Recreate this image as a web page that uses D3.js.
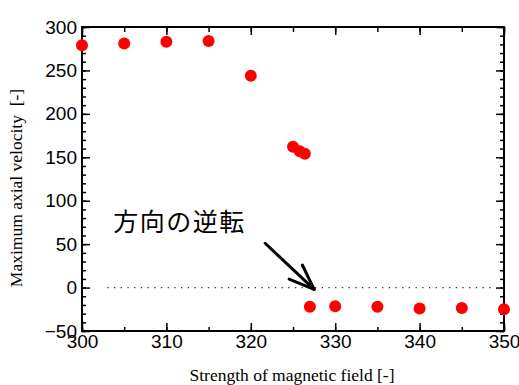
<!DOCTYPE html>
<html>
<head>
<meta charset="utf-8">
<script src="https://cdn.jsdelivr.net/npm/d3@7"></script>
<style>
  body { margin: 0; background: #fff; }
  svg { display: block; }
  .tick text { font-family: "Liberation Sans", Arial, sans-serif; font-size: 19px; fill: #000; }
  .title { font-family: "Liberation Serif", "Times New Roman", serif; font-size: 17.5px; fill: #000; white-space: pre; }
  .note { font-family: "Noto Sans CJK JP", sans-serif; font-size: 25px; fill: #000; letter-spacing: 1.5px; }
</style>
</head>
<body>
<figure id="plot" style="margin:0"></figure>
<script>
// magnetic field strength vs. maximum axial velocity
var field    = [300, 305, 310, 315, 320, 325, 325.8, 326.4, 327, 330, 335, 340, 345, 350];
var velocity = [279, 281, 283, 284, 244, 162, 157, 154, -22, -21.5, -22, -24, -23.5, -25];
var xTicks = [300, 310, 320, 330, 340, 350];
var yTicks = [-50, 0, 50, 100, 150, 200, 250, 300];

// annotation, in data units
var noteText = "方向の逆転";
var notePos = [303.7, 65];
var arrowFrom = [321.7, 51];
var arrowTo = [327.5, -2];

var width = 519, height = 385;
var margin = {top: 27, right: 15, bottom: 54, left: 82};
var w = width - margin.left - margin.right;
var h = height - margin.top - margin.bottom;

var svg = d3.select("figure#plot")
  .append("svg")
  .attr("width", width)
  .attr("height", height);

var g = svg.append("g")
  .attr("transform", "translate(" + margin.left + "," + margin.top + ")");

var x = d3.scaleLinear().domain([300, 350]).range([0, w]);
var y = d3.scaleLinear().domain([-50, 300]).range([h, 0]);

// minor ticks on all four sides
g.append("g").attr("transform", "translate(0," + h + ")")
  .call(d3.axisBottom(x).tickValues(d3.range(300, 351, 5)).tickSize(-4).tickFormat(""));
g.append("g")
  .call(d3.axisTop(x).tickValues(d3.range(300, 351, 5)).tickSize(-5).tickFormat(""));
g.append("g")
  .call(d3.axisLeft(y).tickValues(d3.range(-50, 301, 10)).tickSize(-4).tickFormat(""));
g.append("g").attr("transform", "translate(" + w + ",0)")
  .call(d3.axisRight(y).tickValues(d3.range(-50, 301, 10)).tickSize(-4).tickFormat(""));

// major ticks
g.append("g").attr("transform", "translate(0," + h + ")")
  .call(d3.axisBottom(x).tickValues(xTicks).tickSize(-8).tickPadding(3).tickFormat(d3.format("d")));
g.append("g")
  .call(d3.axisTop(x).tickValues(xTicks).tickSize(-8).tickFormat(""));
g.append("g")
  .call(d3.axisLeft(y).tickValues(yTicks).tickSize(-8).tickPadding(5).tickFormat(d3.format("d")));
g.append("g").attr("transform", "translate(" + w + ",0)")
  .call(d3.axisRight(y).tickValues(yTicks).tickSize(-8).tickFormat(""));

g.selectAll(".domain").remove();
g.selectAll(".tick line").attr("stroke", "#000").attr("stroke-width", 1.5);

// frame
g.append("rect")
  .attr("width", w)
  .attr("height", h)
  .attr("fill", "none")
  .attr("stroke", "#000")
  .attr("stroke-width", 2);

// dotted zero line
g.append("line")
  .attr("x1", x(303)).attr("x2", x(348.5))
  .attr("y1", y(0)).attr("y2", y(0))
  .attr("stroke", "#333")
  .attr("stroke-width", 1.2)
  .attr("stroke-dasharray", "1.3,5.4");

// points
g.selectAll("circle.pt")
  .data(field)
  .enter()
  .append("circle")
  .attr("class", "pt")
  .attr("cx", d => x(d))
  .attr("cy", (d, i) => y(velocity[i]))
  .attr("r", 6)
  .attr("fill", "#ff0000");

// annotation
g.append("text")
  .attr("class", "note")
  .attr("x", x(notePos[0]))
  .attr("y", y(notePos[1]))
  .text(noteText);

var ax0 = x(arrowFrom[0]), ay0 = y(arrowFrom[1]);
var ax1 = x(arrowTo[0]), ay1 = y(arrowTo[1]);
var ang = Math.atan2(ay1 - ay0, ax1 - ax0);
var headLen = 27, headAng = 21 * Math.PI / 180;
var arrow = g.append("g").attr("stroke", "#000").attr("stroke-width", 3).attr("stroke-linecap", "round").attr("fill", "none");
arrow.append("line").attr("x1", ax0).attr("y1", ay0).attr("x2", ax1).attr("y2", ay1);
[-headAng, headAng].forEach(function(a) {
  arrow.append("line")
    .attr("x1", ax1).attr("y1", ay1)
    .attr("x2", ax1 - headLen * Math.cos(ang + a))
    .attr("y2", ay1 - headLen * Math.sin(ang + a));
});

// axis titles
svg.append("text")
  .attr("class", "title")
  .attr("x", margin.left + x(325) - 1)
  .attr("y", 381)
  .attr("text-anchor", "middle")
  .text("Strength of magnetic field [-]");

svg.append("text")
  .attr("class", "title")
  .attr("transform", "translate(22," + 188 + ")rotate(-90)")
  .attr("text-anchor", "middle")
  .text("Maximum axial velocity  [-]");
</script>
</body>
</html>
